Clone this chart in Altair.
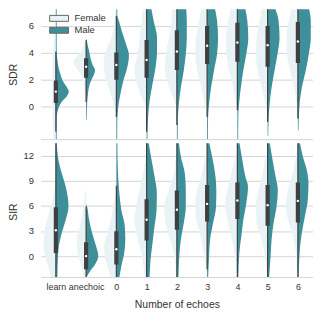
import altair as alt
import pandas as pd

CATEGORIES = ["learn", "anechoic", "0", "1", "2", "3", "4", "5", "6"]
GENDERS = ["Female", "Male"]
FEMALE_COLOR = "#e9f3f6"
MALE_COLOR = "#3d8f9a"
BOX_COLOR = "#3f3f3f"
GRID_COLOR = "#d5d5d5"
TEXT_COLOR = "#333333"
FONT = "Liberation Sans"
SLOT_PX = 30.5  # density widths below are read in pixels of a 30.5 px category slot

# violin half profiles: (value, half-width)
SDR_FEMALE = [
    [(7.5, 0.8), (5.0, 2), (4.0, 3), (2.0, 3.5), (0.0, 3.5), (-1.5, 3), (-2.5, 2.5)],
    [(5.2, 0.5), (4.6, 2), (4.0, 6), (3.6, 11), (3.35, 13), (2.9, 10), (2.3, 5), (1.8, 3), (1.4, 2), (0.8, 0.8), (0.3, 0.3)],
    [(7.2, 0.5), (6.6, 1.5), (5.4, 4), (4.6, 8), (4.0, 11), (3.2, 13), (2.2, 11), (1.2, 7), (0.2, 3), (-0.5, 1), (-1.0, 0.3)],
    [(7.6, 3), (6.4, 5), (5.1, 7), (3.9, 9), (2.7, 12.3), (1.7, 10), (0.7, 5), (0.0, 1.5), (-0.3, 0.5)],
    [(7.6, 4), (6.4, 5.5), (5.1, 8), (3.9, 11), (2.7, 12), (1.7, 9), (0.7, 4), (0.0, 1), (-0.3, 0.3)],
    [(7.6, 5), (6.4, 8), (5.1, 11), (3.9, 12), (2.7, 10), (1.4, 6), (0.4, 3), (-0.3, 1), (-0.6, 0.3)],
    [(7.6, 6), (6.4, 9), (5.0, 11.7), (3.8, 11), (2.6, 8), (1.3, 4), (0.5, 2), (0.0, 0.5)],
    [(7.6, 5), (6.4, 8), (5.1, 11), (3.9, 11.7), (2.7, 10), (1.4, 6), (0.4, 3), (-0.3, 1), (-0.6, 0.3)],
    [(7.6, 6), (6.4, 9), (5.1, 11.5), (3.9, 11), (2.7, 8), (1.4, 4), (0.4, 1.5), (-0.2, 0.3)],
]
SDR_MALE = [
    [(7.6, 0.8), (4.2, 0.8), (3.5, 1.5), (2.8, 3), (2.3, 5), (1.9, 7), (1.5, 10.5), (1.1, 13), (0.7, 10.5), (0.44, 7), (0.1, 4), (-0.3, 2), (-0.7, 1), (-2.5, 0.8)],
    [(5.0, 0.8), (4.6, 1.5), (4.15, 3), (3.6, 4.5), (3.1, 6.5), (2.7, 9), (2.3, 7.5), (2.0, 5.5), (1.5, 3), (1.0, 2), (0.4, 1.2), (-1.0, 0.6)],
    [(7.6, 0.8), (6.8, 1), (6.4, 2.5), (5.6, 5.5), (4.6, 10), (3.8, 12.7), (2.9, 11), (1.9, 7), (0.9, 4), (0.0, 2), (-1.0, 1), (-2.5, 0.8)],
    [(7.6, 4), (6.4, 7), (5.1, 10.5), (4.2, 10.5), (2.9, 9), (1.7, 6), (0.4, 3), (-0.8, 1.5), (-2.5, 0.8)],
    [(7.6, 9), (6.4, 10), (5.1, 10), (3.9, 9), (2.7, 7), (1.4, 4), (0.2, 2), (-1.0, 1), (-2.5, 0.8)],
    [(7.6, 7), (6.4, 10), (5.1, 11), (3.9, 10), (2.7, 7), (1.4, 4), (0.2, 2), (-0.8, 1), (-2.5, 0.8)],
    [(7.6, 7), (6.4, 10), (5.1, 11), (3.9, 9), (2.7, 6), (1.4, 3.5), (0.4, 2), (-0.6, 1), (-2.5, 0.8)],
    [(7.6, 6), (6.4, 11), (5.1, 12), (3.9, 10), (2.7, 7), (1.4, 4), (0.2, 2), (-1.0, 1), (-2.2, 0.6)],
    [(7.6, 10), (6.4, 13), (5.1, 13), (3.9, 11), (2.7, 8), (1.4, 4), (0.4, 2), (-0.8, 1), (-1.8, 0.6)],
]
SIR_FEMALE = [
    [(8.8, 0.3), (8.3, 1), (6.3, 4), (4.7, 8), (3.2, 11), (1.6, 12.3), (0.0, 11), (-1.6, 7), (-2.6, 5)],
    [(8.0, 0.3), (7.5, 1), (5.5, 3), (3.6, 6), (2.0, 9.3), (0.8, 9), (-0.4, 7), (-1.6, 4), (-2.6, 2)],
    [(7.5, 0.5), (6.7, 2), (4.7, 5), (2.8, 9), (1.2, 12.3), (-0.4, 11), (-1.6, 8), (-2.6, 6)],
    [(12.5, 0.3), (11.9, 1), (9.5, 4), (7.5, 8), (5.5, 11), (4.5, 12.3), (3.2, 11), (1.6, 8), (-0.4, 4), (-2.6, 2)],
    [(12.5, 0.3), (11.9, 1), (9.9, 3), (7.9, 8), (5.9, 12.7), (4.35, 12), (2.8, 9), (1.2, 5), (-0.4, 2), (-2.6, 1)],
    [(12.5, 0.5), (11.9, 2), (9.9, 5), (7.9, 10), (5.9, 12), (3.95, 10), (2.0, 6), (0.0, 3), (-1.6, 1), (-2.2, 0.3)],
    [(12.5, 0.5), (11.9, 2), (9.9, 6), (7.9, 10), (6.3, 12.3), (4.35, 10), (2.4, 6), (0.4, 3), (-1.6, 1), (-2.2, 0.3)],
    [(12.5, 0.5), (11.9, 2), (9.9, 5), (7.9, 9), (5.9, 11.7), (3.95, 11), (2.0, 6), (0.0, 3), (-1.6, 1), (-2.2, 0.3)],
    [(12.5, 0.5), (11.9, 2), (9.9, 5), (7.9, 10), (5.9, 12), (4.35, 10), (2.4, 5), (0.4, 2), (-1.6, 1), (-2.2, 0.3)],
]
SIR_MALE = [
    [(13.6, 1), (11.9, 2), (10.3, 5), (8.7, 9), (7.1, 12), (5.9, 12.7), (4.35, 10), (2.8, 6), (1.2, 3), (-0.4, 2), (-2.6, 1.5)],
    [(6.2, 0.3), (5.9, 1), (4.35, 3), (2.8, 6), (1.2, 10), (0.0, 12.3), (-1.0, 9), (-1.8, 4), (-2.4, 1), (-2.6, 0.3)],
    [(13.6, 1), (10.3, 1.5), (7.5, 3), (5.5, 5), (3.6, 8.5), (2.0, 9), (0.4, 8), (-1.2, 5), (-2.6, 3)],
    [(13.6, 2), (11.5, 5), (9.5, 8), (7.5, 10.3), (5.5, 10), (3.6, 8), (1.6, 6), (-0.4, 4), (-2.6, 3)],
    [(13.6, 2), (11.9, 4), (9.9, 8), (7.9, 9), (5.9, 9), (3.95, 7), (2.0, 4), (0.0, 2.5), (-2.6, 1.5)],
    [(13.6, 2), (11.9, 5), (9.9, 8), (7.9, 9.3), (5.9, 9), (3.95, 6), (2.0, 3), (0.0, 2), (-2.6, 1)],
    [(13.6, 2), (11.5, 5), (9.5, 8), (8.3, 10.7), (6.3, 9), (4.35, 6), (2.4, 4), (0.4, 2), (-2.6, 1)],
    [(13.6, 2), (11.5, 5), (9.5, 8), (7.9, 10.3), (5.9, 9), (3.95, 6), (2.0, 4), (0.0, 3), (-2.6, 1.5)],
    [(13.6, 2), (11.9, 5), (10.3, 9), (8.7, 10.7), (6.7, 10), (4.7, 7), (2.8, 4), (0.8, 2), (-1.6, 1), (-2.6, 0.8)],
]

# inner box plots
SDR_Q1 = [0.25, 2.13, 1.98, 2.13, 2.72, 3.16, 3.33, 2.96, 3.23]
SDR_MEDIAN = [1.1, 2.96, 3.09, 3.46, 4.1, 4.52, 4.77, 4.57, 4.84]
SDR_Q3 = [1.93, 3.6, 4.02, 4.96, 5.68, 6.0, 6.25, 6.0, 6.3]
SDR_WHISK_LO = [-1.9, 0.32, -0.79, -1.9, -1.4, -0.8, -0.3, -1.16, -0.9]
SDR_WHISK_HI = [4.1, 4.94, 6.74, 9.2, 10.1, 10.3, 10.6, 10.6, 10.9]

SIR_Q1 = [0.37, -1.58, -0.99, 1.86, 3.16, 4.15, 4.43, 3.64, 4.03]
SIR_MEDIAN = [3.1, 0.0, 0.83, 4.35, 5.53, 6.24, 6.64, 6.09, 6.6]
SIR_Q3 = [5.83, 1.66, 2.97, 6.8, 7.83, 8.5, 8.8, 8.5, 8.8]
SIR_WHISK_LO = [-2.6, -2.6, -2.6, -2.6, -2.6, -1.6, -2.6, -2.6, -2.6]
SIR_WHISK_HI = [14, 5.93, 8.4, 14, 14, 14, 14, 14, 14]


def violin_frame(female, male):
    rows = []
    for i in range(len(CATEGORIES)):
        for g, prof in (("Female", female[i]), ("Male", male[i])):
            for v, w in prof:
                d = w / SLOT_PX
                lo, hi = (i - d, i) if g == "Female" else (i, i + d)
                rows.append(dict(idx=i, gender=g, v=v, lo=lo, hi=hi, key=f"{i}-{g}"))
    return pd.DataFrame(rows)


def box_frame(q1, med, q3, wlo, whi):
    return pd.DataFrame(dict(idx=list(range(len(CATEGORIES))), q1=q1, med=med, q3=q3, wlo=wlo, whi=whi))


LABEL_EXPR = "[" + ",".join(f"'{c}'" for c in CATEGORIES) + "][datum.value]"


def panel(vdf, bdf, title, domain, height, yvals, bottom, title_y, legend):
    xscale = alt.Scale(domain=[-0.5, 8.5], nice=False, zero=False)
    yscale = alt.Scale(domain=domain, nice=False, zero=False)
    if bottom:
        xaxis = alt.Axis(values=list(range(len(CATEGORIES))), labelExpr=LABEL_EXPR,
                         title="Number of echoes", ticks=False, tickSize=0, grid=False,
                         domainColor=GRID_COLOR, labelFontSize=9, labelColor=TEXT_COLOR,
                         labelPadding=6, labelFlush=False, labelOverlap=False,
                         titleFontSize=10.5, titleFontWeight="normal", titleColor=TEXT_COLOR,
                         titlePadding=8)
    else:
        xaxis = alt.Axis(labels=False, ticks=False, tickSize=0, title=None, grid=False,
                         domainColor=GRID_COLOR)
    yaxis = alt.Axis(values=yvals, title=title, grid=True, gridColor=GRID_COLOR, domain=False,
                     ticks=False, tickSize=0, labelFontSize=9.5, labelColor=TEXT_COLOR,
                     labelPadding=7.4, titleFontSize=10.5, titleFontWeight="normal",
                     titleColor=TEXT_COLOR, titleAngle=-90, titleX=-32.75, titleY=title_y,
                     titleBaseline="top", titleAlign="center")
    violins = alt.Chart(vdf).mark_area(orient="horizontal", interpolate="monotone", clip=True).encode(
        y=alt.Y("v:Q", scale=yscale, axis=yaxis),
        x=alt.X("lo:Q", scale=xscale, axis=xaxis),
        x2="hi:Q",
        color=alt.Color("gender:N", scale=alt.Scale(domain=GENDERS, range=[FEMALE_COLOR, MALE_COLOR]),
                        legend=legend),
        detail="key:N",
    )
    base = alt.Chart(bdf)
    whisk = base.mark_rule(color=BOX_COLOR, strokeWidth=1.2, clip=True).encode(
        x=alt.X("idx:Q", scale=xscale, axis=xaxis),
        y=alt.Y("wlo:Q", scale=yscale, axis=yaxis), y2="whi:Q")
    box = base.mark_rule(color=BOX_COLOR, strokeWidth=4.2, strokeCap="butt", clip=True).encode(
        x=alt.X("idx:Q", scale=xscale, axis=xaxis),
        y=alt.Y("q1:Q", scale=yscale, axis=yaxis), y2="q3:Q")
    med = base.mark_circle(color="white", size=6, opacity=1, clip=True).encode(
        x=alt.X("idx:Q", scale=xscale, axis=xaxis),
        y=alt.Y("med:Q", scale=yscale, axis=yaxis))
    return alt.layer(violins, whisk, box, med).properties(width=274.5, height=height)


legend = alt.Legend(orient="none", legendX=12, legendY=2.7, title=None,
                    symbolType="M-1.583,-0.5L1.583,-0.5L1.583,0.5L-1.583,0.5Z", symbolSize=144,
                    symbolStrokeColor="#666666", symbolStrokeWidth=1, symbolOpacity=1,
                    labelFontSize=9.5, labelColor=TEXT_COLOR, labelOffset=9, rowPadding=0,
                    padding=0)

top = panel(violin_frame(SDR_FEMALE, SDR_MALE),
            box_frame(SDR_Q1, SDR_MEDIAN, SDR_Q3, SDR_WHISK_LO, SDR_WHISK_HI),
            "SDR", [-2.45, 7.25], 131, [0, 2, 4, 6], False, 65.5, legend)
bottom = panel(violin_frame(SIR_FEMALE, SIR_MALE),
               box_frame(SIR_Q1, SIR_MEDIAN, SIR_Q3, SIR_WHISK_LO, SIR_WHISK_HI),
               "SIR", [-2.5, 13.5], 135, [0, 3, 6, 9, 12], True, 69, None)

chart = alt.vconcat(top, bottom, spacing=4).resolve_scale(color="independent").resolve_legend(
    color="independent").properties(
    padding={"left": 0, "top": 0, "right": 0, "bottom": 0}, background="white"
).configure(font=FONT).configure_view(stroke=None)

chart.save("out.html", embed_options={"renderer": "svg", "actions": False})
